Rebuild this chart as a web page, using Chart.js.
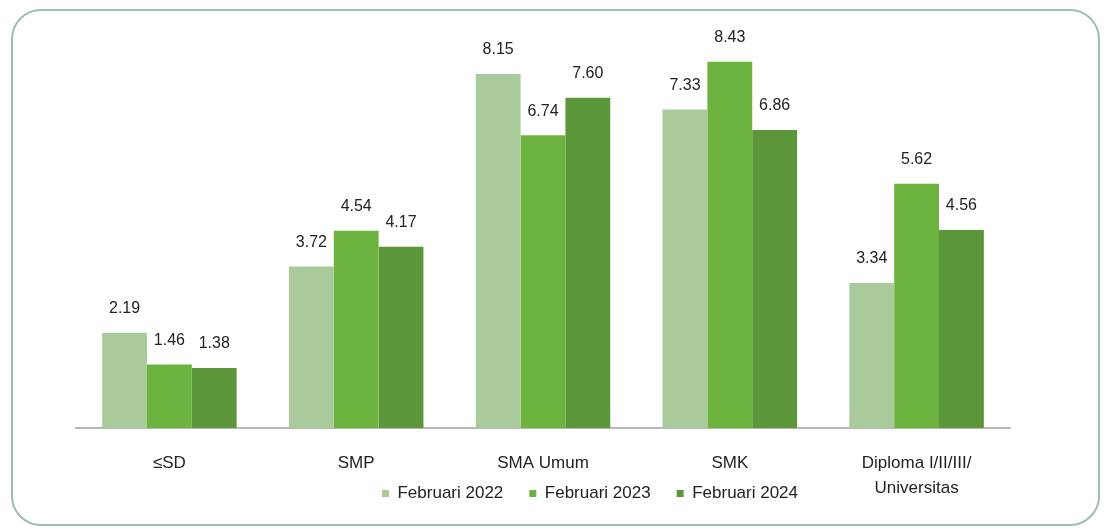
<!DOCTYPE html>
<html>
<head>
<meta charset="utf-8">
<script src="https://cdn.jsdelivr.net/npm/chart.js@4"></script>
<style>
  html, body { margin: 0; padding: 0; background: #fff; }
  #wrap { position: relative; width: 1104px; height: 530px; }
  #frame {
    position: absolute; left: 11px; top: 9px; width: 1085px; height: 513px;
    border: 2px solid #9dbfab; border-radius: 30px; box-sizing: content-box;
  }
  canvas { position: absolute; left: 0; top: 0; }
</style>
</head>
<body>
<div id="wrap">
  <div id="frame"></div>
  <canvas id="chart" width="1104" height="530"></canvas>
</div>
<script>
  // Tingkat pengangguran terbuka menurut pendidikan (%)
  const kategori = ["≤SD", "SMP", "SMA Umum", "SMK", ["Diploma I/II/III/", "Universitas"]];
  const feb2022 = [2.19, 3.72, 8.15, 7.33, 3.34];
  const feb2023 = [1.46, 4.54, 6.74, 8.43, 5.62];
  const feb2024 = [1.38, 4.17, 7.60, 6.86, 4.56];
  const seriLabel = ["Februari 2022", "Februari 2023", "Februari 2024"];
  const warna = ["#a9cb9b", "#6db33f", "#5b963a"];

  const fontUtama = "'Liberation Sans', Arial, sans-serif";

  // label nilai di atas batang
  const labelNilai = {
    id: "labelNilai",
    afterDatasetsDraw(chart) {
      const ctx = chart.ctx;
      ctx.save();
      ctx.font = "16px " + fontUtama;
      ctx.fillStyle = "#222";
      ctx.textAlign = "center";
      ctx.textBaseline = "bottom";
      chart.data.datasets.forEach((ds, i) => {
        chart.getDatasetMeta(i).data.forEach((bar, j) => {
          ctx.fillText(ds.data[j].toFixed(2), bar.x, bar.y - 16);
        });
      });
      ctx.restore();
    }
  };

  // legenda di gambar asli sedikit ke kanan dan sejajar baris kedua label
  const geserLegenda = {
    id: "geserLegenda",
    afterLayout(chart) {
      const lg = chart.legend;
      const h = lg.bottom - lg.top;
      lg.left += 47;
      lg.right += 47;
      lg.top = 459;
      lg.bottom = 459 + h;
    }
  };

  const data = [feb2022, feb2023, feb2024];

  new Chart(document.getElementById("chart").getContext("2d"), {
    type: "bar",
    data: {
      labels: kategori,
      datasets: data.map((d, i) => ({
        label: seriLabel[i],
        data: d,
        backgroundColor: warna[i],
        categoryPercentage: 0.72,
        barPercentage: 1.0
      }))
    },
    options: {
      responsive: false,
      animation: false,
      layout: { padding: { left: 76, right: 94, top: 37, bottom: -23 } },
      plugins: {
        legend: {
          position: "bottom",
          labels: {
            boxWidth: 7, boxHeight: 7, padding: 26,
            color: "#222",
            font: { size: 17, family: fontUtama }
          }
        },
        tooltip: { enabled: false }
      },
      scales: {
        x: {
          grid: { display: false },
          border: { color: "#b8b8b8", width: 2 },
          ticks: {
            color: "#222", padding: 15,
            font: { size: 17, family: fontUtama, lineHeight: 1.45 }
          },
          afterFit(scale) { scale.height = 72; }
        },
        y: { display: false, min: 0, max: 9 }
      }
    },
    plugins: [labelNilai, geserLegenda]
  });
</script>
</body>
</html>
